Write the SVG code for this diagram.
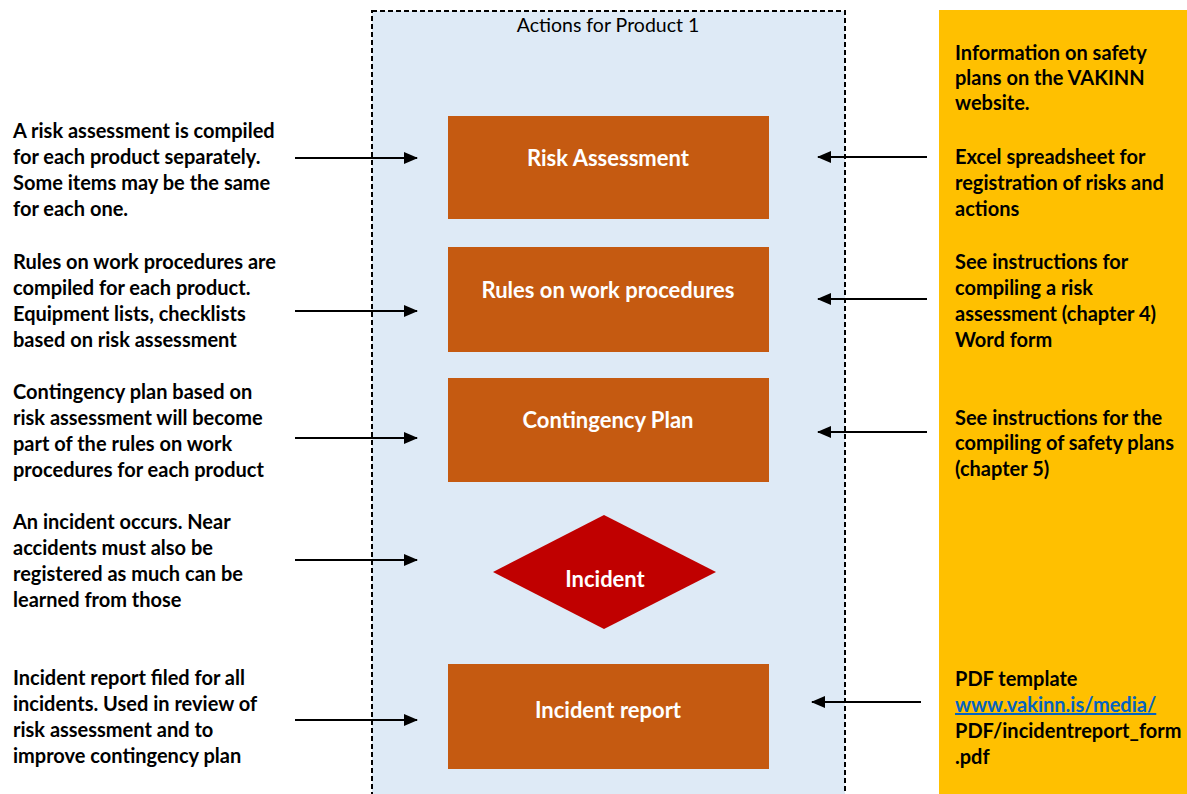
<svg xmlns="http://www.w3.org/2000/svg" width="1187" height="794" viewBox="0 0 1187 794">
  <style>
    .note { font-family: Lato, "Open Sans", sans-serif; font-weight: bold; font-size: 20px; fill: #000; }
    .box { fill: #C55A11; }
    .label { font-family: Lato, "Open Sans", sans-serif; font-weight: bold; font-size: 22px; fill: #fff; text-anchor: middle; }
    .title { font-family: Lato, "Open Sans", sans-serif; font-size: 19.5px; fill: #000; text-anchor: middle; }
    .link { fill: #0563C1; text-decoration: underline; }
    .conn { stroke: #000; stroke-width: 2; fill: none; marker-end: url(#arrow); }
  </style>
  <defs>
    <marker id="arrow" viewBox="0 0 14 12" refX="13" refY="6" markerWidth="14" markerHeight="12" markerUnits="userSpaceOnUse" orient="auto">
      <path d="M0,0 L14,6 L0,12 Z" fill="#000"/>
    </marker>
  </defs>

  <rect width="1187" height="794" fill="#fff"/>

  <!-- resource column -->
  <g id="resources">
    <rect x="939" y="10" width="248" height="790" fill="#FFC000"/>
  </g>

  <!-- container for product actions -->
  <g id="product-panel">
    <rect x="372" y="11" width="473" height="800" fill="#DEEAF6" stroke="#000" stroke-width="2" stroke-dasharray="5 3"/>
    <text class="title" x="608" y="32">Actions for Product 1</text>
  </g>

  <g id="risk-assessment">
    <rect class="box" x="448" y="116" width="321" height="103"/>
    <text class="label" x="608" y="166">Risk Assessment</text>
  </g>

  <g id="work-procedures">
    <rect class="box" x="448" y="247" width="321" height="105"/>
    <text class="label" x="608" y="298">Rules on work procedures</text>
  </g>

  <g id="contingency-plan">
    <rect class="box" x="448" y="378" width="321" height="104"/>
    <text class="label" x="608" y="428">Contingency Plan</text>
  </g>

  <g id="incident">
    <polygon points="604,515 716,572 604,629 493,572" fill="#C00000"/>
    <text class="label" x="605" y="587">Incident</text>
  </g>

  <g id="incident-report">
    <rect class="box" x="448" y="664" width="321" height="105"/>
    <text class="label" x="608" y="718">Incident report</text>
  </g>

  <!-- left-hand notes -->
  <g id="note-risk">
    <text class="note" x="13" y="138">A risk assessment is compiled</text>
    <text class="note" x="13" y="164">for each product separately.</text>
    <text class="note" x="13" y="190">Some items may be the same</text>
    <text class="note" x="13" y="216">for each one.</text>
  </g>
  <g id="note-rules">
    <text class="note" x="13" y="269">Rules on work procedures are</text>
    <text class="note" x="13" y="295">compiled for each product.</text>
    <text class="note" x="13" y="321">Equipment lists, checklists</text>
    <text class="note" x="13" y="347">based on risk assessment</text>
  </g>
  <g id="note-contingency">
    <text class="note" x="13" y="399">Contingency plan based on</text>
    <text class="note" x="13" y="425">risk assessment will become</text>
    <text class="note" x="13" y="451">part of the rules on work</text>
    <text class="note" x="13" y="477">procedures for each product</text>
  </g>
  <g id="note-incident">
    <text class="note" x="13" y="529">An incident occurs. Near</text>
    <text class="note" x="13" y="555">accidents must also be</text>
    <text class="note" x="13" y="581">registered as much can be</text>
    <text class="note" x="13" y="607">learned from those</text>
  </g>
  <g id="note-report">
    <text class="note" x="13" y="685">Incident report filed for all</text>
    <text class="note" x="13" y="711">incidents. Used in review of</text>
    <text class="note" x="13" y="737">risk assessment and to</text>
    <text class="note" x="13" y="763">improve contingency plan</text>
  </g>

  <!-- right-hand resources -->
  <g id="res-website">
    <text class="note" x="955" y="60">Information on safety</text>
    <text class="note" x="955" y="85">plans on the VAKINN</text>
    <text class="note" x="955" y="110">website.</text>
  </g>
  <g id="res-excel">
    <text class="note" x="955" y="164">Excel spreadsheet for</text>
    <text class="note" x="955" y="190">registration of risks and</text>
    <text class="note" x="955" y="216">actions</text>
  </g>
  <g id="res-risk-instructions">
    <text class="note" x="955" y="269">See instructions for</text>
    <text class="note" x="955" y="295">compiling a risk</text>
    <text class="note" x="955" y="321">assessment (chapter 4)</text>
    <text class="note" x="955" y="347">Word form</text>
  </g>
  <g id="res-plan-instructions">
    <text class="note" x="955" y="425">See instructions for the</text>
    <text class="note" x="955" y="450">compiling of safety plans</text>
    <text class="note" x="955" y="476">(chapter 5)</text>
  </g>
  <g id="res-pdf">
    <text class="note" x="955" y="686">PDF template</text>
    <text class="note link" x="955" y="712">www.vakinn.is/media/</text>
    <text class="note" x="955" y="738">PDF/incidentreport_form</text>
    <text class="note" x="955" y="764">.pdf</text>
  </g>

  <!-- connectors -->
  <g id="connectors">
    <line class="conn" x1="295" y1="158" x2="417" y2="158"/>
    <line class="conn" x1="295" y1="311" x2="417" y2="311"/>
    <line class="conn" x1="295" y1="438" x2="417" y2="438"/>
    <line class="conn" x1="295" y1="560" x2="417" y2="560"/>
    <line class="conn" x1="295" y1="720" x2="417" y2="720"/>
    <line class="conn" x1="927" y1="157" x2="818" y2="157"/>
    <line class="conn" x1="927" y1="299" x2="818" y2="299"/>
    <line class="conn" x1="927" y1="432" x2="818" y2="432"/>
    <line class="conn" x1="921" y1="702" x2="812" y2="702"/>
  </g>
</svg>
